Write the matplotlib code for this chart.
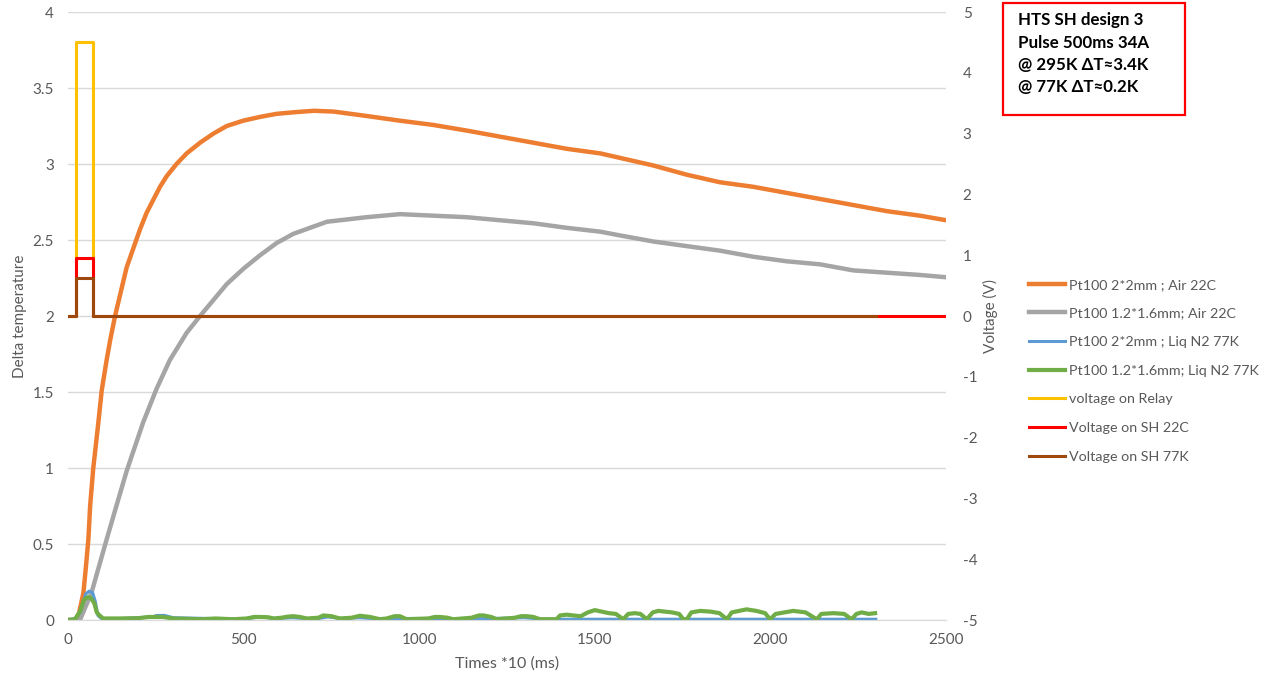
import matplotlib
matplotlib.use("Agg")
import matplotlib.pyplot as plt
from matplotlib.patches import Rectangle

plt.rcParams['font.family'] = ['Lato', 'DejaVu Sans']
plt.rcParams['axes.unicode_minus'] = False

# temperature curves (delta temperature vs time *10 ms)
air_2x2_x = [0, 20, 30, 44, 51, 58, 63, 72, 86, 96, 110, 120, 134, 167, 205, 224, 262, 281, 309,
             338, 376, 414, 452, 499, 547, 594, 641, 700, 756, 850, 945, 1040, 1135, 1230, 1325,
             1420, 1515, 1572, 1667, 1761, 1856, 1951, 2046, 2141, 2236, 2331, 2426, 2500]
air_2x2_y = [0, 0, 0.03, 0.18, 0.35, 0.53, 0.75, 1.0, 1.29, 1.51, 1.71, 1.84, 2.0, 2.32, 2.57, 2.68,
             2.85, 2.92, 3.0, 3.07, 3.14, 3.20, 3.25, 3.285, 3.31, 3.33, 3.34, 3.35, 3.345, 3.316,
             3.285, 3.257, 3.22, 3.18, 3.14, 3.10, 3.07, 3.04, 2.99, 2.93, 2.88, 2.85, 2.81, 2.77,
             2.73, 2.69, 2.66, 2.63]

air_12x16_x = [0, 20, 34, 67, 110, 139, 167, 214, 252, 290, 338, 376, 414, 452, 499, 547, 594, 641,
               689, 737, 850, 945, 1040, 1135, 1230, 1325, 1420, 1515, 1572, 1667, 1761, 1856, 1951,
               2046, 2141, 2236, 2331, 2426, 2500]
air_12x16_y = [0, 0, 0, 0.18, 0.53, 0.76, 0.98, 1.3, 1.52, 1.71, 1.89, 2.0, 2.105, 2.21, 2.31, 2.40,
               2.48, 2.54, 2.58, 2.62, 2.65, 2.67, 2.66, 2.65, 2.63, 2.61, 2.58, 2.555, 2.53, 2.49,
               2.46, 2.43, 2.39, 2.36, 2.34, 2.30, 2.285, 2.27, 2.255]

ln2_2x2_x = [0, 20, 35, 50, 60, 70, 78, 85, 95, 150, 200, 240, 253, 275, 300, 400, 480, 510, 550,
             590, 640, 700, 740, 780, 830, 900, 950, 1050, 1100, 1200, 1300, 1350, 1400, 1800, 2300]
ln2_2x2_y = [0, 0.01, 0.05, 0.17, 0.19, 0.18, 0.12, 0.03, 0.01, 0.01, 0.015, 0.02, 0.03, 0.03, 0.015,
             0.01, 0.005, 0.01, 0.02, 0.01, 0.015, 0.005, 0.02, 0.01, 0.015, 0.005, 0.01, 0.01,
             0.005, 0.01, 0.015, 0.005, 0.005, 0.005, 0.005]

ln2_12x16_x = [0, 20, 35, 45, 55, 65, 75, 82, 90, 100, 150, 200, 230, 250, 270, 300, 380, 420, 470,
               509, 530, 547, 570, 585, 608, 625, 642, 660, 680, 713, 727, 750, 774, 808, 831, 860,
               888, 907, 930, 945, 964, 1026, 1045, 1059, 1080, 1097, 1149, 1170, 1183, 1205, 1221,
               1273, 1290, 1306, 1325, 1344, 1391, 1401, 1420, 1439, 1460, 1480, 1500, 1520, 1540,
               1560, 1581, 1595, 1614, 1630, 1648, 1665, 1681, 1700, 1720, 1740, 1752, 1762, 1775,
               1800, 1830, 1855, 1876, 1890, 1932, 1960, 1985, 1999, 2015, 2065, 2100, 2132, 2145,
               2179, 2210, 2231, 2245, 2260, 2280, 2298]
ln2_12x16_y = [0, 0.005, 0.06, 0.13, 0.15, 0.145, 0.11, 0.05, 0.03, 0.01, 0.01, 0.012, 0.02, 0.02,
               0.02, 0.01, 0.005, 0.01, 0.005, 0.01, 0.02, 0.02, 0.018, 0.01, 0.015, 0.022, 0.025,
               0.02, 0.01, 0.015, 0.03, 0.025, 0.01, 0.015, 0.028, 0.02, 0.005, 0.01, 0.025, 0.025,
               0.005, 0.01, 0.02, 0.02, 0.015, 0.005, 0.015, 0.03, 0.03, 0.02, 0.005, 0.015, 0.025,
               0.025, 0.02, 0.005, 0.005, 0.03, 0.035, 0.03, 0.025, 0.05, 0.065, 0.055, 0.045, 0.04,
               0.005, 0.04, 0.045, 0.04, 0.005, 0.05, 0.06, 0.055, 0.05, 0.04, 0.005, 0.005, 0.05,
               0.06, 0.055, 0.045, 0.005, 0.05, 0.07, 0.06, 0.045, 0.005, 0.04, 0.06, 0.05, 0.005,
               0.04, 0.045, 0.04, 0.005, 0.04, 0.05, 0.04, 0.045]

# voltages (right axis)
relay_x = [0, 22, 22, 71, 71, 2300]
relay_v = [0, 0, 4.5, 4.5, 0, 0]
sh22_x = [0, 22, 22, 71, 71, 2500]
sh22_v = [0, 0, 0.96, 0.96, 0, 0]
sh77_x = [0, 22, 22, 71, 71, 2300]
sh77_v = [0, 0, 0.625, 0.625, 0, 0]

labels = ['Pt100 2*2mm ; Air 22C', 'Pt100 1.2*1.6mm; Air 22C', 'Pt100 2*2mm ; Liq N2 77K',
          'Pt100 1.2*1.6mm; Liq N2 77K', 'voltage on Relay', 'Voltage on SH 22C', 'Voltage on SH 77K']
colors = ['#ED7D31', '#A5A5A5', '#5B9BD5', '#70AD47', '#FFC000', '#FF0000', '#9E480E']
txt_col = '#595959'

fig = plt.figure(figsize=(12.73, 6.8), dpi=100)
ax = fig.add_axes([68 / 1273, 60 / 680, 878 / 1273, 608 / 680])
ax2 = ax.twinx()

h = []
h += ax.plot(air_2x2_x, air_2x2_y, color=colors[0], lw=3.2, label=labels[0])
h += ax.plot(air_12x16_x, air_12x16_y, color=colors[1], lw=3.2, label=labels[1])
h += ax.plot(ln2_2x2_x, ln2_2x2_y, color=colors[2], lw=2.2, label=labels[2])
h += ax.plot(ln2_12x16_x, ln2_12x16_y, color=colors[3], lw=3, label=labels[3])
h += ax2.plot(relay_x, relay_v, color=colors[4], lw=2.2, label=labels[4])
h += ax2.plot(sh22_x, sh22_v, color=colors[5], lw=2.2, label=labels[5])
h += ax2.plot(sh77_x, sh77_v, color=colors[6], lw=2.2, label=labels[6])

ax.set_xlim(0, 2500)
ax.set_ylim(0, 4)
ax2.set_ylim(-5, 5)
ax.set_xticks(range(0, 2501, 500))
ax.set_yticks([0, 0.5, 1, 1.5, 2, 2.5, 3, 3.5, 4])
ax.set_yticklabels(['0', '0.5', '1', '1.5', '2', '2.5', '3', '3.5', '4'])
ax2.set_yticks(range(-5, 6))
ax.grid(axis='y', color='#d9d9d9', lw=1)
ax.set_axisbelow(True)

for a in (ax, ax2):
    for s in a.spines.values():
        s.set_visible(False)
    a.tick_params(length=0, labelsize=11, labelcolor=txt_col)
ax.spines['bottom'].set_visible(True)
ax.spines['bottom'].set_color('#d9d9d9')
ax.tick_params(axis='y', pad=10)
ax.tick_params(axis='x', pad=9)
ax2.tick_params(axis='y', pad=12)

ax.set_xlabel('Times *10 (ms)', fontsize=11.5, color=txt_col, labelpad=7)
ax.set_ylabel('Delta temperature', fontsize=11, color=txt_col, labelpad=4)
ax2.set_ylabel('Voltage (V)', fontsize=11, color=txt_col, rotation=90, labelpad=4)

fig.legend(h, labels, loc='upper left', bbox_to_anchor=(1016 / 1273, 1 - 266 / 680),
           frameon=False, fontsize=10.3, labelcolor=txt_col, handlelength=2.5,
           handletextpad=0.3, labelspacing=1.16)

fig.patches.append(Rectangle((1003 / 1273, 1 - 115 / 680), 182 / 1273, 112 / 680,
                             transform=fig.transFigure, fill=False, edgecolor='#FF0000', lw=1.6))
fig.text(1018 / 1273, 1 - 12 / 680,
         'HTS SH design 3\nPulse 500ms 34A\n@ 295K ΔT≈3.4K\n@ 77K ΔT≈0.2K',
         fontsize=12.2, fontweight='bold', va='top', ha='left', linespacing=1.5)

fig.savefig('out.png', dpi=100)
